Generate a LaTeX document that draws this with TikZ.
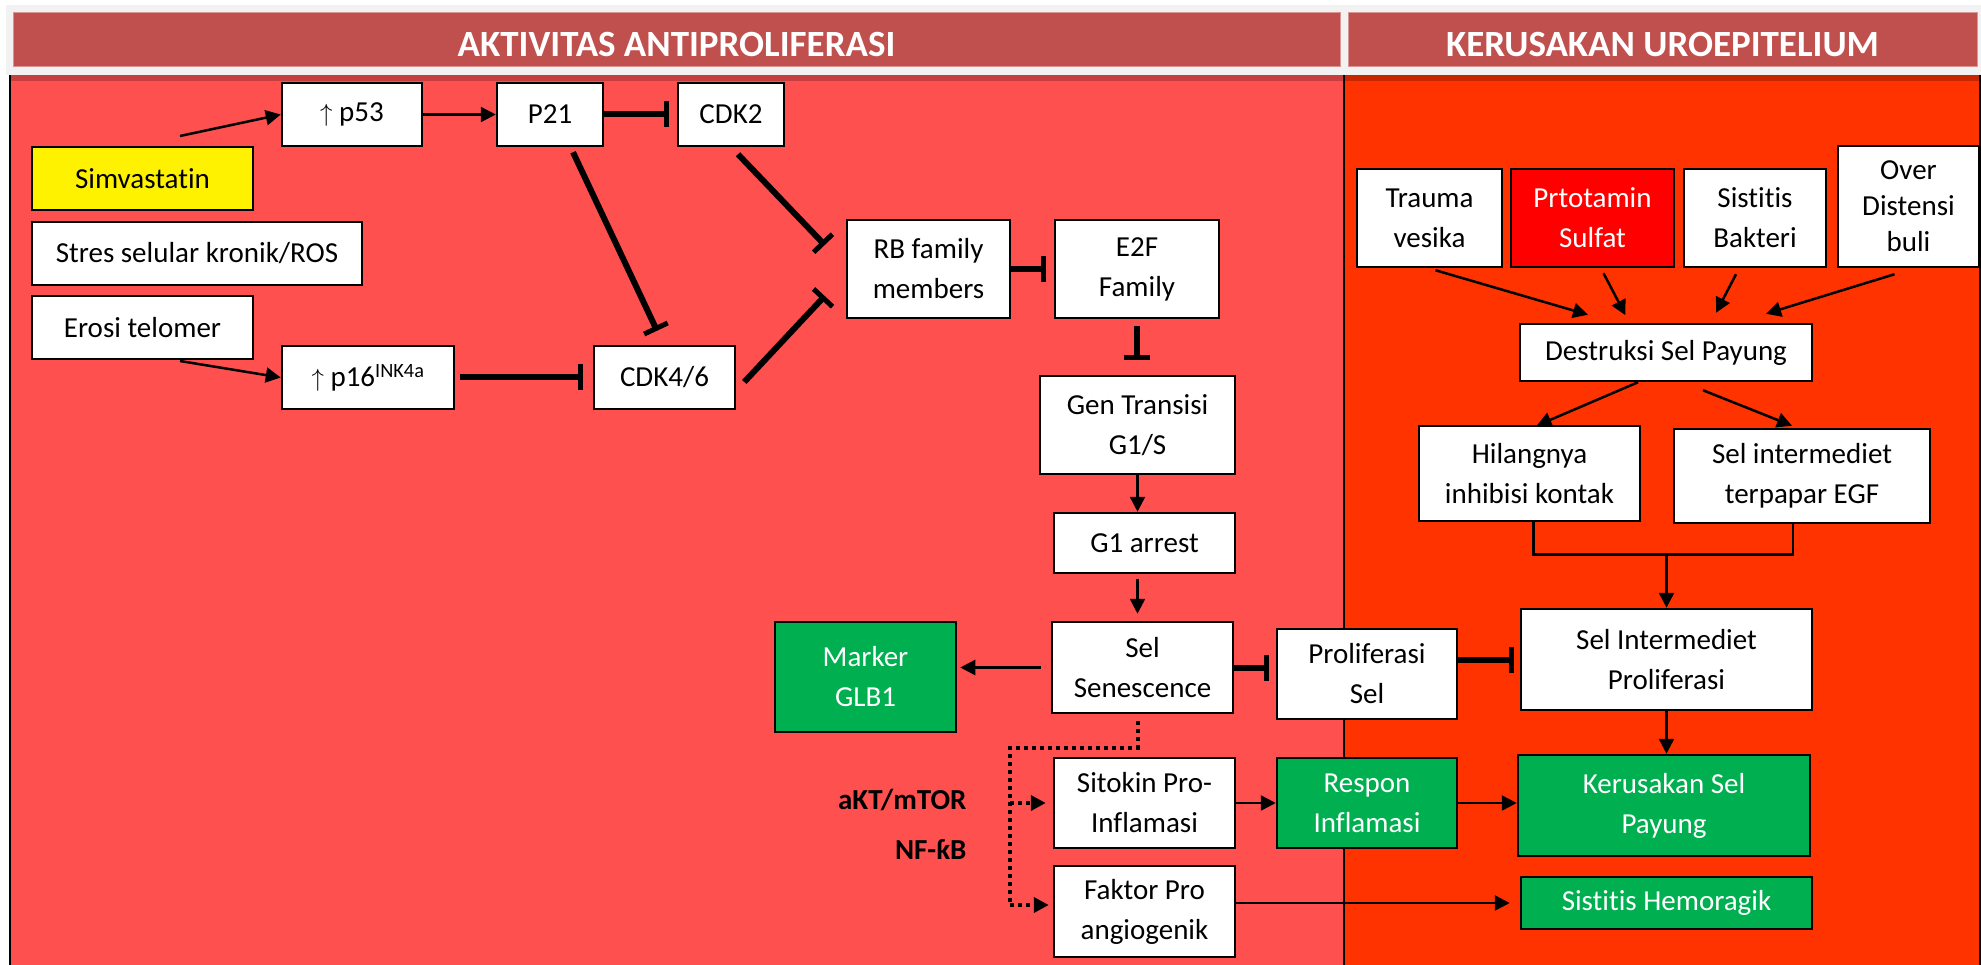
\documentclass[tikz,border=0pt]{standalone}
\usepackage{fontspec}
\setmainfont{Carlito}[Ligatures=NoCommon]
\usetikzlibrary{arrows.meta,calc}
\definecolor{hdr}{HTML}{C0504D}
\definecolor{hdrb}{HTML}{D99694}
\definecolor{lpanel}{HTML}{FF5050}
\definecolor{rpanel}{HTML}{FF3300}
\definecolor{grn}{HTML}{00B050}
\definecolor{gbg}{HTML}{F2F2F2}
\newcommand\BX[7]{\node[#6, minimum width={(#4-#2)*1pt}, minimum height={(#5-#3)*1pt}] (#1) at ({(#2+#4)/2},{(#3+#5)/2}) {#7};}
\begin{document}
\begin{tikzpicture}[x=1pt, y=-1pt, font=\fontsize{29}{40}\selectfont,
  box/.style={draw=black, line width=2.5pt, fill=white, align=center, inner sep=2pt, text=black},
  gbox/.style={box, fill=grn, text=white},
  ybox/.style={box, fill=yellow},
  rbox/.style={box, fill=red, text=white},
  hdrbar/.style={draw=hdrb, line width=1pt, fill=hdr, text=white, inner sep=0pt, text height=34pt, text depth=0pt, font=\fontsize{37}{44}\bfseries\selectfont},
  arr/.style={line width=2.5pt, -{Triangle[length=15pt,width=15pt]}},
  inh/.style={line width=6pt, -{Bar[width=26pt,line width=5pt]}},
  plain/.style={line width=2.5pt},
  dotl/.style={line width=4pt, dash pattern=on 4pt off 4pt},
  dotarr/.style={dotl, -{Triangle[length=15pt,width=15pt]}},
  lbl/.style={font=\fontsize{29}{36}\bfseries\selectfont, anchor=east, text=black}]
\useasboundingbox (0,0) rectangle (1981,965);
\fill[white] (0,0) rectangle (1981,965);
\fill[gbg] (6,5) rectangle (1981,75);
\BX{h1}{13}{13}{1340}{67}{hdrbar}{AKTIVITAS ANTIPROLIFERASI}
\BX{h2}{1348}{13}{1977}{67}{hdrbar}{KERUSAKAN UROEPITELIUM}
\fill[lpanel] (9,75) rectangle (1343.5,965);
\fill[rpanel] (1343.5,75) rectangle (1981,965);
\fill[black, opacity=0.22] (9,75) rectangle (1981,81);
\draw[line width=2pt] (10,75) -- (10,965);
\draw[line width=2pt] (1343.5,75) -- (1343.5,965);
\draw[line width=2pt] (1980,75) -- (1980,965);
% left panel nodes
\BX{p53}{282}{83}{422}{146}{box}{$\uparrow$ p53}
\BX{p21}{497}{83}{603}{146}{box}{P21}
\BX{cdk2}{678}{83}{784}{146}{box}{CDK2}
\BX{simv}{32}{147}{253}{210}{ybox}{Simvastatin}
\BX{stres}{32}{222}{362}{285}{box}{Stres selular kronik/ROS}
\BX{erosi}{32}{296}{253}{359}{box}{Erosi telomer}
\BX{p16}{282}{346}{454}{409}{box}{$\uparrow$ p16\textsuperscript{INK4a}}
\BX{cdk46}{594}{346}{735}{409}{box}{CDK4/6}
\BX{rb}{847}{220}{1010}{318}{box}{RB family\\members}
\BX{e2f}{1055}{220}{1219}{318}{box}{E2F\\Family}
\BX{gen}{1040}{376}{1235}{474}{box}{Gen Transisi\\G1/S}
\BX{g1}{1054}{513}{1235}{573}{box}{G1 arrest}
\BX{sen}{1052}{622}{1233}{713}{box}{Sel\\Senescence}
\BX{glb}{775}{622}{956}{732}{gbox}{Marker\\GLB1}
\BX{prol}{1277}{629}{1457}{719}{box}{Proliferasi\\Sel}
\BX{sit}{1054}{758}{1235}{848}{box}{Sitokin Pro-\\Inflamasi}
\BX{fak}{1054}{866}{1235}{957}{box}{Faktor Pro\\angiogenik}
\BX{resp}{1277}{758}{1457}{848}{gbox}{Respon\\Inflamasi}
% right panel nodes
\BX{trauma}{1357}{169}{1502}{267}{box}{Trauma\\vesika}
\BX{prot}{1511}{169}{1674}{267}{rbox}{Prtotamin\\Sulfat}
\BX{sist}{1684}{169}{1826}{267}{box}{Sistitis\\Bakteri}
\BX{over}{1838}{146}{1979}{267}{box}{Over\\[-4pt]Distensi\\[-4pt]buli}
\BX{destr}{1520}{324}{1812}{381}{box}{Destruksi Sel Payung}
\BX{hil}{1419}{426}{1640}{521}{box}{Hilangnya\\inhibisi kontak}
\BX{sie}{1674}{429}{1930}{523}{box}{Sel intermediet\\terpapar EGF}
\BX{sip}{1521}{609}{1812}{710}{box}{Sel Intermediet\\Proliferasi}
\BX{ker}{1518}{755}{1810}{856}{gbox}{Kerusakan Sel\\Payung}
\BX{sh}{1521}{877}{1812}{929}{gbox}{Sistitis Hemoragik}
% labels
\node[lbl] (akt) at (970,800) {aKT/mTOR};
\node[lbl] (nfkb) at (970,849) {NF-ƙB};
% connectors left
\coordinate (s1) at (180,136);
\coordinate (s2) at (180,361);
\draw[arr] (s1) -- (p53.west);
\draw[arr] (s2) -- (p16.west);
\draw[arr] (p53) -- (p21);
\draw[inh, shorten >=8pt] (p21) -- (cdk2);
\draw[inh] ($(p21.south)+(23,5)$) -- ($(cdk46.north)+(-7.5,-14)$);
\draw[inh] ($(cdk2.south)+(7,7)$) -- ($(rb.west)+(-21,-24)$);
\draw[inh] ($(cdk46.east)+(8,4.5)$) -- ($(rb.west)+(-21,27)$);
\draw[inh, shorten <=5pt, shorten >=10pt] (p16) -- (cdk46);
\draw[inh, shorten >=8pt] (rb) -- (e2f);
\draw[inh, shorten <=7pt, shorten >=15pt] (e2f.south) -- (e2f.south |- gen.north);
\draw[arr] (gen.south) -- (gen.south |- g1.north);
\draw[arr, shorten <=5pt, shorten >=7pt] (g1.south -| gen.south) -- (sen.north -| gen.south);
\draw[arr, shorten <=10pt, shorten >=3pt] (sen.west) -- (sen.west -| glb.east);
\draw[inh, shorten >=7pt] (sen.east) -- (sen.east -| prol.west);
\draw[inh, shorten >=6pt] (prol.east |- sip.west) -- (sip.west);
\draw[arr] (sit) -- (resp);
\draw[arr] (resp.east) -- (resp.east -| ker.west);
\draw[arr, shorten >=10pt] (fak.east |- sh.west) -- (sh.west);
% dotted
\coordinate (dv) at (1010,748);
\coordinate (dw) at (1010,905);
\draw[dotl] ($(sen.south)+(-5,7)$) |- (dv) -- (dw);
\draw[dotarr] (dw) -- ($(fak.west)+(-4,-6.5)$);
\draw[dotarr] (dv |- sit.west) -- ($(sit.west)+(-7,0)$);
% connectors right
\draw[arr] ($(trauma.south)+(6,2)$) -- ($(destr.north)+(-78,-8)$);
\draw[arr] ($(prot.south)+(11,5)$) -- ($(destr.north)+(-40.5,-7.5)$);
\draw[arr] ($(sist.south)+(-19,6)$) -- ($(destr.north)+(50,-10)$);
\draw[arr] ($(over.south)+(-14,6)$) -- ($(destr.north)+(100,-9)$);
\draw[arr] ($(destr.south)+(-28,0)$) -- ($(hil.north)+(7,1)$);
\draw[arr] ($(destr.south)+(37,8)$) -- ($(sie.north)+(-10,-2)$);
\coordinate (bl) at ($(hil.south)+(4,32)$);
\coordinate (br) at ($(sie.south)+(-9,0)$);
\draw[plain] ($(hil.south)+(4,0)$) -- (bl) -- (bl -| br) -- (br);
\draw[arr] (bl -| sip.north) -- (sip.north);
\draw[arr] (sip.south) -- (sip.south |- ker.north);
\end{tikzpicture}
\end{document}
